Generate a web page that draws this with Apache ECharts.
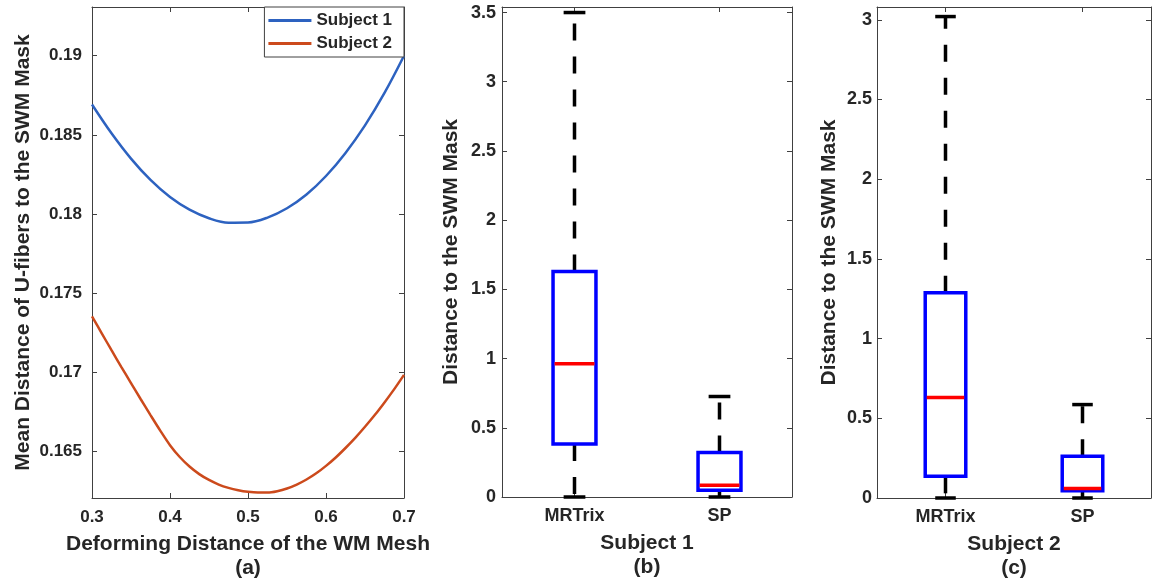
<!DOCTYPE html>
<html><head><meta charset="utf-8">
<script src="https://cdn.jsdelivr.net/npm/echarts@6/dist/echarts.min.js"></script>
<style>html,body{margin:0;padding:0;background:#fff}#c{width:1155px;height:587px}</style>
</head><body><div id="c"></div>
<script>
// ---- Panel (a) data ----
const deformX1 = [0.300,0.325,0.350,0.375,0.400,0.425,0.450,0.475,0.500,0.525,0.550,0.575,0.600,0.625,0.650,0.675,0.700];
const subject1Mean = [0.18692,0.18510,0.18350,0.18215,0.18107,0.18027,0.17973,0.17945,0.17946,0.17977,0.18036,0.18123,0.18240,0.18386,0.18560,0.18765,0.19000];
const deformX2 = [0.3000,0.3125,0.3250,0.3375,0.3500,0.3625,0.3750,0.3875,0.4000,0.4125,0.4250,0.4375,0.4500,0.4625,0.4750,0.4875,0.5000,0.5125,0.5250,0.5375,0.5500,0.5625,0.5750,0.5875,0.6000,0.6125,0.6250,0.6375,0.6500,0.6625,0.6750,0.6875,0.7000];
const subject2Mean = [0.17353,0.17246,0.17139,0.17034,0.16931,0.16829,0.16729,0.16631,0.16539,0.16464,0.16404,0.16356,0.16319,0.16290,0.16269,0.16254,0.16244,0.16239,0.16239,0.16248,0.16265,0.16290,0.16322,0.16361,0.16408,0.16461,0.16521,0.16585,0.16655,0.16729,0.16809,0.16893,0.16983];
const xTicksA = [0.3,0.4,0.5,0.6,0.7];
const yTicksA = [0.165,0.17,0.175,0.18,0.185,0.19];
const seriesNamesA = ['Subject 1','Subject 2'];
// ---- Panels (b),(c) data: [min, q1, median, q3, max] ----
const boxCategories = ['MRTrix','SP'];
const subject1MRTrix = [0, 0.383, 0.962, 1.629, 3.50];
const subject1SP     = [0, 0.048, 0.084, 0.322, 0.726];
const subject2MRTrix = [0, 0.136, 0.630, 1.287, 3.02];
const subject2SP     = [0, 0.046, 0.060, 0.262, 0.586];
const yTicksB = [0,0.5,1,1.5,2,2.5,3,3.5];
const yTicksC = [0,0.5,1,1.5,2,2.5,3];

const FONT = "'Liberation Sans', Arial, Helvetica, sans-serif";
const TXT = '#262626';
const AX = '#404040';

function lbl(size, margin, show){
  return {show: show, color: TXT, fontFamily: FONT, fontWeight: 'bold', fontSize: size, margin: margin};
}
function frameLine(){ return {show:true, onZero:false, lineStyle:{color:AX, width:1}}; }
function tick(){ return {show:true, inside:true, length:5, lineStyle:{color:AX, width:1}}; }
function nameStyle(){ return {color: TXT, fontFamily: FONT, fontWeight: 'bold', fontSize: 21, lineHeight: 24}; }

const chart = echarts.init(document.getElementById('c'), null, {renderer:'canvas'});

function renderBox(params, api){
  const c = api.value(0);
  const mn = api.value(1), q1 = api.value(2), md = api.value(3), q3 = api.value(4), mx = api.value(5);
  const band = api.size([1,0])[0];
  const hw = band*0.148, cw = band*0.075;
  const pMin = api.coord([c,mn]), pQ1 = api.coord([c,q1]), pMd = api.coord([c,md]), pQ3 = api.coord([c,q3]), pMax = api.coord([c,mx]);
  const x = pMin[0];
  const dash = {stroke:'#000', lineWidth:3.5, lineDash:[17,16], fill:'none'};
  const solid = {stroke:'#000', lineWidth:3.5, fill:'none'};
  return {type:'group', children:[
    {type:'line', shape:{x1:x,y1:pQ3[1],x2:x,y2:pMax[1]}, style:dash},
    {type:'line', shape:{x1:x,y1:pQ1[1],x2:x,y2:pMin[1]}, style:dash},
    {type:'line', shape:{x1:x-cw,y1:pMax[1],x2:x+cw,y2:pMax[1]}, style:solid},
    {type:'line', shape:{x1:x-cw,y1:pMin[1],x2:x+cw,y2:pMin[1]}, style:solid},
    {type:'rect', shape:{x:x-hw,y:pQ3[1],width:2*hw,height:pQ1[1]-pQ3[1]}, style:{stroke:'#0000FF', fill:'none', lineWidth:3.5}},
    {type:'line', shape:{x1:x-hw+1.5,y1:pMd[1],x2:x+hw-1.5,y2:pMd[1]}, style:{stroke:'#FF0000', lineWidth:3.5}}
  ]};
}

const boxDataB = [[0].concat(subject1MRTrix), [1].concat(subject1SP)];
const boxDataC = [[0].concat(subject2MRTrix), [1].concat(subject2SP)];

const option = {
  backgroundColor:'#fff',
  animation:false,
  grid:[
    {left:92, top:7, width:312, height:491},
    {left:502, top:7, width:290, height:490},
    {left:877, top:7, width:274, height:491}
  ],
  legend:{
    data: seriesNamesA.map(n => ({name:n, icon:'rect'})),
    orient:'vertical', right:751, top:7,
    itemWidth:43, itemHeight:3, itemGap:6,
    padding:[5,12,5,4],
    borderColor:AX, borderWidth:1, backgroundColor:'#fff',
    textStyle:{color:TXT, fontFamily:FONT, fontWeight:'bold', fontSize:17, lineHeight:17, padding:[0,0,0,0]}
  },
  xAxis:[
    {gridIndex:0, type:'value', min:0.3, max:0.7, position:'bottom',
     axisLine:frameLine(), axisTick:Object.assign(tick(),{customValues:xTicksA}),
     axisLabel:Object.assign(lbl(17,11,true),{customValues:xTicksA}), splitLine:{show:false},
     name:'Deforming Distance of the WM Mesh\n(a)', nameLocation:'middle', nameGap:34, nameTextStyle:nameStyle()},
    {gridIndex:0, type:'value', min:0.3, max:0.7, position:'top',
     axisLine:frameLine(), axisTick:Object.assign(tick(),{customValues:xTicksA}),
     axisLabel:{show:false}, splitLine:{show:false}},
    {gridIndex:1, type:'category', data:boxCategories, position:'bottom',
     axisLine:frameLine(), axisTick:Object.assign(tick(),{alignWithLabel:true}),
     axisLabel:lbl(18,10,true), splitLine:{show:false},
     name:'Subject 1\n(b)', nameLocation:'middle', nameGap:34, nameTextStyle:nameStyle()},
    {gridIndex:1, type:'category', data:boxCategories, position:'top',
     axisLine:frameLine(), axisTick:Object.assign(tick(),{alignWithLabel:true}),
     axisLabel:{show:false}, splitLine:{show:false}},
    {gridIndex:2, type:'category', data:boxCategories, position:'bottom',
     axisLine:frameLine(), axisTick:Object.assign(tick(),{alignWithLabel:true}),
     axisLabel:lbl(18,10,true), splitLine:{show:false},
     name:'Subject 2\n(c)', nameLocation:'middle', nameGap:34, nameTextStyle:nameStyle()},
    {gridIndex:2, type:'category', data:boxCategories, position:'top',
     axisLine:frameLine(), axisTick:Object.assign(tick(),{alignWithLabel:true}),
     axisLabel:{show:false}, splitLine:{show:false}}
  ],
  yAxis:[
    {gridIndex:0, type:'value', min:0.16205, max:0.19308, position:'left',
     axisLine:frameLine(), axisTick:Object.assign(tick(),{customValues:yTicksA}),
     axisLabel:Object.assign(lbl(17,10,true),{customValues:yTicksA}), splitLine:{show:false},
     name:'Mean Distance of U-fibers to the SWM Mask', nameLocation:'middle', nameRotate:90, nameGap:57, nameTextStyle:nameStyle()},
    {gridIndex:0, type:'value', min:0.16205, max:0.19308, position:'right',
     axisLine:frameLine(), axisTick:Object.assign(tick(),{customValues:yTicksA}),
     axisLabel:{show:false}, splitLine:{show:false}},
    {gridIndex:1, type:'value', min:0, max:3.54, position:'left',
     axisLine:frameLine(), axisTick:Object.assign(tick(),{customValues:yTicksB}),
     axisLabel:Object.assign(lbl(18,6,true),{customValues:yTicksB}), splitLine:{show:false},
     name:'Distance to the SWM Mask', nameLocation:'middle', nameRotate:90, nameGap:39, nameTextStyle:nameStyle()},
    {gridIndex:1, type:'value', min:0, max:3.54, position:'right',
     axisLine:frameLine(), axisTick:Object.assign(tick(),{customValues:yTicksB}),
     axisLabel:{show:false}, splitLine:{show:false}},
    {gridIndex:2, type:'value', min:0, max:3.08, position:'left',
     axisLine:frameLine(), axisTick:Object.assign(tick(),{customValues:yTicksC}),
     axisLabel:Object.assign(lbl(18,5,true),{customValues:yTicksC}), splitLine:{show:false},
     name:'Distance to the SWM Mask', nameLocation:'middle', nameRotate:90, nameGap:36, nameTextStyle:nameStyle()},
    {gridIndex:2, type:'value', min:0, max:3.08, position:'right',
     axisLine:frameLine(), axisTick:Object.assign(tick(),{customValues:yTicksC}),
     axisLabel:{show:false}, splitLine:{show:false}}
  ],
  series:[
    {name:seriesNamesA[0], type:'line', xAxisIndex:0, yAxisIndex:0, smooth:0.35, showSymbol:false, symbol:'none',
     color:'#2D62C0', lineStyle:{color:'#2D62C0', width:2.5},
     data: deformX1.map((x,i)=>[x, subject1Mean[i]])},
    {name:seriesNamesA[1], type:'line', xAxisIndex:0, yAxisIndex:0, smooth:0.3, showSymbol:false, symbol:'none',
     color:'#CC4A1C', lineStyle:{color:'#CC4A1C', width:2.5},
     data: deformX2.map((x,i)=>[x, subject2Mean[i]])},
    {type:'custom', xAxisIndex:2, yAxisIndex:2, renderItem:renderBox, clip:false,
     encode:{x:0, y:[1,2,3,4,5]}, data:boxDataB, z:5},
    {type:'custom', xAxisIndex:4, yAxisIndex:4, renderItem:renderBox, clip:false,
     encode:{x:0, y:[1,2,3,4,5]}, data:boxDataC, z:5}
  ]
};
chart.setOption(option);
</script>
</body></html>
